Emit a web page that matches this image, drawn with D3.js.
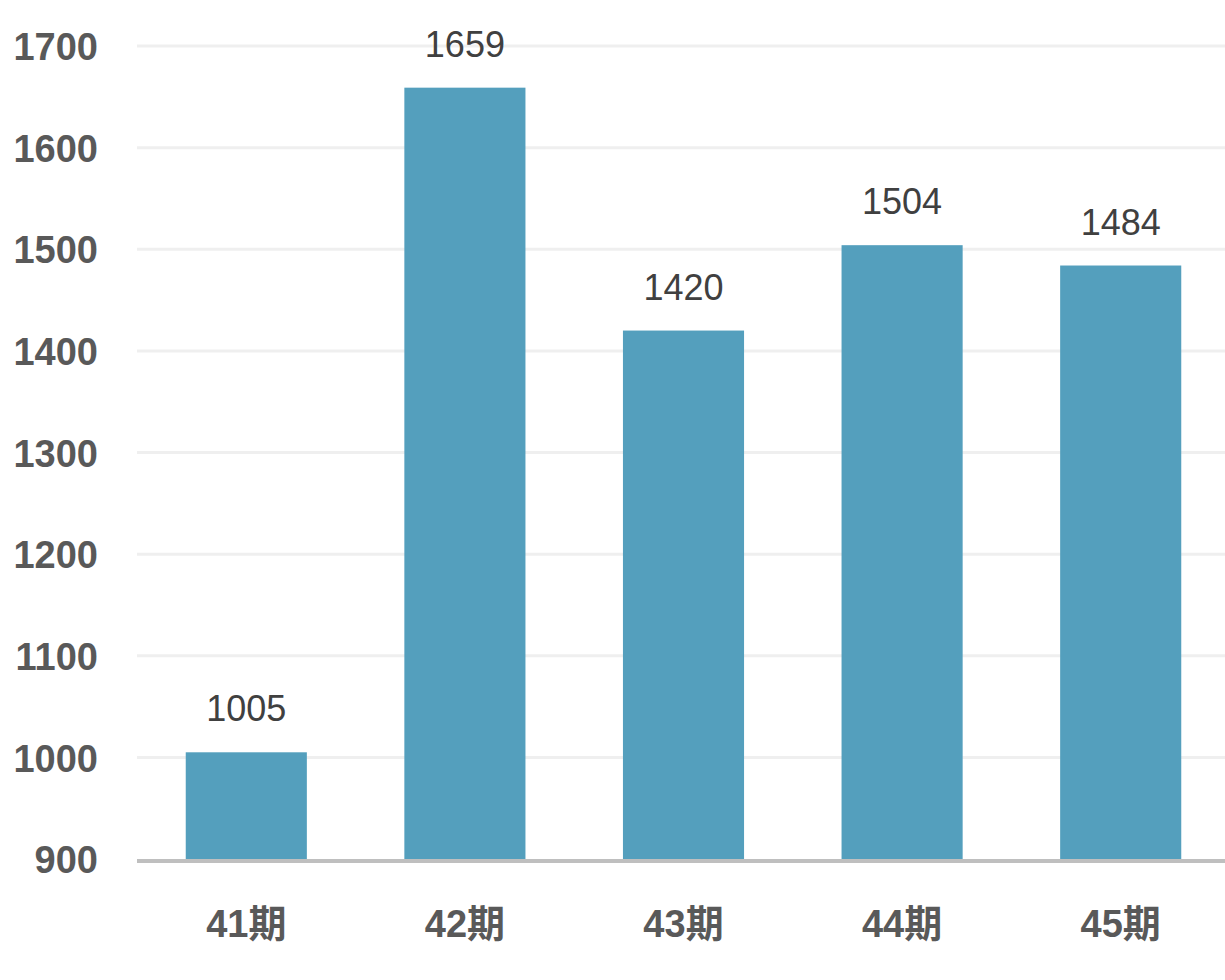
<!DOCTYPE html>
<html>
<head>
<meta charset="utf-8">
<script src="https://cdn.jsdelivr.net/npm/d3@7"></script>
<style>
  html, body { margin: 0; padding: 0; background: #fff; }
  svg { display: block; }
  text { font-family: "Liberation Sans", Arial, "Noto Sans CJK SC", sans-serif; }
</style>
</head>
<body>
<svg id="chart" width="1225" height="980"></svg>
<script>
const categories = ["41期", "42期", "43期", "44期", "45期"];
const values = [1005, 1659, 1420, 1504, 1484];
const yTicks = [900, 1000, 1100, 1200, 1300, 1400, 1500, 1600, 1700];

(function () {
const svg = d3.select("#chart");
const plotLeft = 137, plotRight = 1230, plotTop = 46, plotBottom = 859;

const x = d3.scaleBand().domain(categories).range([plotLeft, plotRight]).paddingInner(0.446).paddingOuter(0.223);
const y = d3.scaleLinear().domain([900, 1700]).range([plotBottom, plotTop]);

// gridlines
svg.append("g").selectAll("line").data(yTicks.filter(d => d > 900)).join("line")
  .attr("x1", plotLeft).attr("x2", 1225)
  .attr("y1", d => y(d)).attr("y2", d => y(d))
  .attr("stroke", "#efefef").attr("stroke-width", 3);

// y axis labels
const yAxis = d3.axisLeft(y).tickValues(yTicks).tickFormat(d3.format("d")).tickSize(0).tickPadding(0);
const gy = svg.append("g").attr("transform", "translate(98,0)").call(yAxis);
gy.select(".domain").remove();
gy.selectAll("text")
  .attr("fill", "#595959").attr("font-size", 38).attr("font-weight", "bold")
  .attr("dy", "0.36em")
  .style("font-family", '"Liberation Sans", Arial, sans-serif');

// bars
svg.append("g").selectAll("rect").data(values).join("rect")
  .attr("x", (d, i) => x(categories[i]))
  .attr("width", x.bandwidth())
  .attr("y", d => y(d))
  .attr("height", d => y(900) - y(d))
  .attr("fill", "#549fbd");

// value labels
svg.append("g").selectAll("text").data(values).join("text")
  .attr("x", (d, i) => x(categories[i]) + x.bandwidth() / 2)
  .attr("y", d => y(d) - 31)
  .attr("text-anchor", "middle")
  .attr("fill", "#404040").attr("font-size", 36)
  .text(d => d);

// baseline
svg.append("line")
  .attr("x1", plotLeft).attr("x2", 1225)
  .attr("y1", y(900) + 2).attr("y2", y(900) + 2)
  .attr("stroke", "#bfbfbf").attr("stroke-width", 4);

// x axis labels
const xAxis = d3.axisBottom(x).tickSize(0).tickPadding(0);
const gx = svg.append("g").call(xAxis);
gx.select(".domain").remove();
gx.selectAll("text")
  .attr("y", 937).attr("dy", null)
  .attr("fill", "#595959").attr("font-size", 38).attr("font-weight", "bold");
})();
</script>
</body>
</html>
